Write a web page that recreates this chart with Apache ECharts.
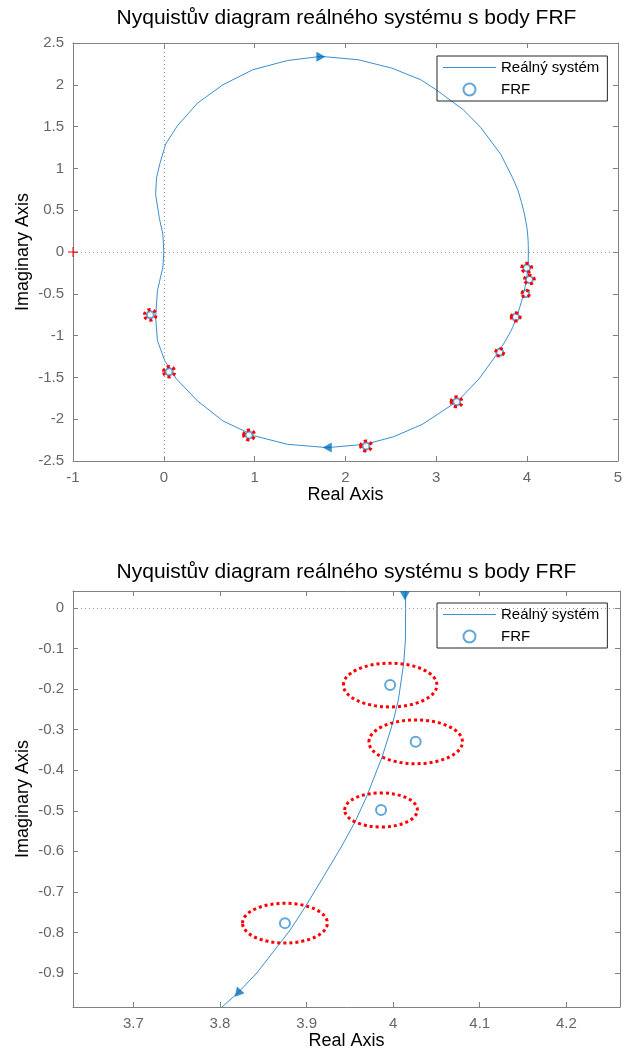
<!DOCTYPE html>
<html>
<head>
<meta charset="utf-8">
<script src="https://cdn.jsdelivr.net/npm/echarts@6/dist/echarts.min.js"></script>
<style>
html, body { margin: 0; padding: 0; background: #fff; }
#chart { width: 625px; height: 1052px; }
</style>
</head>
<body>
<div id="chart"></div>
<script>
// Nyquist curve, negative-frequency branch: from the origin up and round to the real axis
const upperRe = [0, -0.01, -0.05, -0.09, -0.08, -0.04, 0.02, 0.15, 0.37, 0.65, 0.98, 1.36, 1.73, 2.14, 2.51, 2.83, 3.00, 3.30, 3.49, 3.71, 3.84, 3.90, 3.94, 3.969, 3.987, 3.9995, 4.006, 4.012, 4.014, 4.0144];
const upperIm = [0, 0.21, 0.41, 0.69, 0.89, 1.07, 1.29, 1.51, 1.78, 2.00, 2.18, 2.29, 2.34, 2.30, 2.20, 2.06, 1.94, 1.70, 1.49, 1.17, 0.89, 0.74, 0.59, 0.466, 0.367, 0.2835, 0.227, 0.136, 0.079, 0];

// positive-frequency branch: from the real axis down and back to the origin
const lowerRe = [4.0144, 4.0141, 4.0122, 4.0060, 3.9995, 3.9872, 3.9692, 3.9559, 3.9400, 3.9221, 3.8984, 3.8811, 3.8425, 3.8205, 3.8010, 3.758, 3.690, 3.590, 3.470, 3.240, 2.850, 2.530, 2.220, 1.800, 1.360, 1.000, 0.650, 0.370, 0.140, 0.010, -0.070, -0.090, -0.070, -0.010, 0];
const lowerIm = [0, -0.0789, -0.1356, -0.2268, -0.2835, -0.3674, -0.4660, -0.5276, -0.5893, -0.6534, -0.7372, -0.7939, -0.8999, -0.9492, -0.9862, -1.070, -1.190, -1.340, -1.520, -1.780, -2.060, -2.210, -2.300, -2.340, -2.300, -2.200, -2.020, -1.780, -1.520, -1.300, -1.060, -0.780, -0.460, -0.180, 0];

// measured frequency-response points and their uncertainty radius (plot units)
const frfRe = [3.9965, 4.026, 3.986, 3.875, 3.699, 3.225, 2.227, 0.939, 0.059, -0.149];
const frfIm = [-0.190, -0.330, -0.498, -0.777, -1.200, -1.792, -2.320, -2.188, -1.432, -0.752];
const frfRadius = [0.054, 0.054, 0.042, 0.049, 0.045, 0.060, 0.060, 0.060, 0.062, 0.064];

// direction arrows along the curve
const arrowsFull = [[1.73, 2.335], [1.80, -2.34]];
const arrowsZoom = [[4.0135, 0.030], [3.8205, -0.950]];

// critical point
const criticalPoint = [[-1, 0]];

// axis ranges
const fullXTicks = [-1, 0, 1, 2, 3, 4, 5];
const fullYTicks = [-2.5, -2, -1.5, -1, -0.5, 0, 0.5, 1, 1.5, 2, 2.5];
const zoomXRange = [3.6302, 4.262];
const zoomYRange = [-0.9838, 0.0419];

const FONT = '"Liberation Sans", Arial, Helvetica, sans-serif';
const AXIS_COLOR = '#808080';
const TICK_TEXT = '#666666';
const LINE_BLUE = '#3b8ed0';
const ARROW_BLUE = '#0072BD';
const TITLE = 'Nyquistův diagram reálného systému s body FRF';

const curveData = upperRe.map((x, i) => [x, upperIm[i]])
  .concat(lowerRe.map((x, i) => [x, lowerIm[i]]));
const frfData = frfRe.map((x, i) => [x, frfIm[i]]);
const ringData = frfRe.map((x, i) => [x, frfIm[i], frfRadius[i]]);

function baseAxis(extra) {
  return Object.assign({
    type: 'value',
    axisLine: { show: true, onZero: false, lineStyle: { color: AXIS_COLOR, width: 1 } },
    axisTick: { show: true, inside: true, length: 5, lineStyle: { color: AXIS_COLOR } },
    splitLine: { show: false },
    axisLabel: { color: TICK_TEXT, fontSize: 15, fontFamily: FONT },
    nameTextStyle: { color: '#000', fontSize: 18, fontFamily: FONT }
  }, extra);
}
function mirrorAxis(extra) {
  const a = baseAxis(extra);
  a.axisLabel = { show: false };
  return a;
}
const tenths = v => {
  const k = Math.round(v * 10);
  return Math.abs(v * 10 - k) < 1e-6 ? String(+(k / 10).toFixed(1)) : '';
};

function ringSeries(xi, yi) {
  return {
    type: 'custom', xAxisIndex: xi, yAxisIndex: yi, silent: true, z: 6,
    data: ringData,
    renderItem: function (params, api) {
      const c = api.coord([api.value(0), api.value(1)]);
      const s = api.size([api.value(2), api.value(2)]);
      const cs = params.coordSys;
      if (c[0] < cs.x || c[0] > cs.x + cs.width || c[1] < cs.y || c[1] > cs.y + cs.height) return null;
      return {
        type: 'ellipse',
        shape: { cx: c[0], cy: c[1], rx: s[0], ry: s[1] },
        style: { fill: 'none', stroke: '#ff0000', lineWidth: 3, lineDash: [3, 3] }
      };
    }
  };
}
function curveSeries(xi, yi, zeroLines) {
  return {
    name: 'Reálný systém', type: 'line', xAxisIndex: xi, yAxisIndex: yi,
    data: curveData, symbol: 'none', z: 3, animation: false,
    lineStyle: { color: LINE_BLUE, width: 1 }, itemStyle: { color: LINE_BLUE },
    markLine: {
      silent: true, symbol: 'none', label: { show: false }, animation: false,
      lineStyle: { type: [1, 3], color: '#9a9a9a', width: 1 },
      data: zeroLines
    }
  };
}
function frfSeries(xi, yi, size) {
  return {
    name: 'FRF', type: 'scatter', xAxisIndex: xi, yAxisIndex: yi,
    data: frfData, symbol: 'emptyCircle', symbolSize: size, z: 4,
    itemStyle: { color: LINE_BLUE, borderColor: LINE_BLUE, borderWidth: 1 }
  };
}
function arrowSeries(xi, yi, pt, rot) {
  return {
    name: 'směr', type: 'scatter', xAxisIndex: xi, yAxisIndex: yi,
    data: [pt], symbol: 'triangle', symbolSize: [10, 9], symbolRotate: rot,
    z: 5, silent: true, itemStyle: { color: ARROW_BLUE }
  };
}

const legendCommon = {
  orient: 'vertical', left: 437, itemWidth: 53, itemHeight: 12, itemGap: 7,
  padding: [4, 8, 4, 6], borderColor: '#262626', borderWidth: 1,
  textStyle: { fontSize: 15, color: '#000', fontFamily: FONT },
  data: [
    { name: 'Reálný systém', icon: 'path://M0,0 L53,0 L53,1.1 L0,1.1 Z' },
    { name: 'FRF', icon: 'emptyCircle' }
  ],
  selectedMode: false
};

const yName = {
  name: 'Imaginary Axis', nameLocation: 'middle', nameGap: 41, nameRotate: 90, nameMoveOverlap: false
};

const option = {
  animation: false,
  backgroundColor: '#fff',
  textStyle: { fontFamily: FONT },
  graphic: [
    { type: 'text', x: 346.5, y: 18, style: { text: TITLE, font: '21px ' + FONT, fill: '#000', align: 'center', verticalAlign: 'middle' } },
    { type: 'text', x: 346.5, y: 572, style: { text: TITLE, font: '21px ' + FONT, fill: '#000', align: 'center', verticalAlign: 'middle' } }
  ],
  legend: [
    Object.assign({ top: 56 }, legendCommon),
    Object.assign({ top: 603 }, legendCommon)
  ],
  grid: [
    { left: 73, top: 43, width: 548, height: 418 },
    { left: 73, top: 591, width: 547, height: 416 }
  ],
  xAxis: [
    baseAxis({ gridIndex: 0, position: 'bottom', min: fullXTicks[0], max: fullXTicks[fullXTicks.length - 1], interval: 1,
      name: 'Real Axis', nameLocation: 'middle', nameGap: 25, axisLabel: { color: TICK_TEXT, fontSize: 15, fontFamily: FONT, margin: 9 } }),
    mirrorAxis({ gridIndex: 0, position: 'top', min: fullXTicks[0], max: fullXTicks[fullXTicks.length - 1], interval: 1 }),
    baseAxis({ gridIndex: 1, position: 'bottom', min: zoomXRange[0], max: zoomXRange[1], splitNumber: 6,
      name: 'Real Axis', nameLocation: 'middle', nameGap: 25,
      axisLabel: { color: TICK_TEXT, fontSize: 15, fontFamily: FONT, margin: 9, formatter: tenths, showMinLabel: false, showMaxLabel: false } }),
    mirrorAxis({ gridIndex: 1, position: 'top', min: zoomXRange[0], max: zoomXRange[1], splitNumber: 6 })
  ],
  yAxis: [
    baseAxis(Object.assign({ gridIndex: 0, position: 'left', min: fullYTicks[0], max: fullYTicks[fullYTicks.length - 1], interval: 0.5,
      axisLabel: { color: TICK_TEXT, fontSize: 15, fontFamily: FONT, margin: 9 } }, yName)),
    mirrorAxis({ gridIndex: 0, position: 'right', min: fullYTicks[0], max: fullYTicks[fullYTicks.length - 1], interval: 0.5 }),
    baseAxis(Object.assign({ gridIndex: 1, position: 'left', min: zoomYRange[0], max: zoomYRange[1], splitNumber: 10,
      axisLabel: { color: TICK_TEXT, fontSize: 15, fontFamily: FONT, margin: 9, formatter: tenths, showMinLabel: false, showMaxLabel: false } }, yName)),
    mirrorAxis({ gridIndex: 1, position: 'right', min: zoomYRange[0], max: zoomYRange[1], splitNumber: 10 })
  ],
  series: [
    curveSeries(0, 0, [{ xAxis: 0 }, { yAxis: 0 }]),
    frfSeries(0, 0, 7),
    ringSeries(0, 0),
    arrowSeries(0, 0, arrowsFull[0], -90),
    arrowSeries(0, 0, arrowsFull[1], 90),
    {
      type: 'custom', xAxisIndex: 0, yAxisIndex: 0, silent: true, z: 6,
      data: criticalPoint,
      renderItem: function (params, api) {
        const c = api.coord([api.value(0), api.value(1)]);
        const h = 5;
        return {
          type: 'group', children: [
            { type: 'line', shape: { x1: c[0] - h, y1: c[1], x2: c[0] + h, y2: c[1] }, style: { stroke: '#ff0000', lineWidth: 1 } },
            { type: 'line', shape: { x1: c[0], y1: c[1] - h, x2: c[0], y2: c[1] + h }, style: { stroke: '#ff0000', lineWidth: 1 } }
          ]
        };
      }
    },
    curveSeries(2, 2, [{ yAxis: 0 }]),
    frfSeries(2, 2, 10),
    ringSeries(2, 2),
    arrowSeries(2, 2, arrowsZoom[0], 180),
    arrowSeries(2, 2, arrowsZoom[1], 139)
  ]
};

const chart = echarts.init(document.getElementById('chart'), null, { renderer: 'canvas' });
chart.setOption(option);
</script>
</body>
</html>
